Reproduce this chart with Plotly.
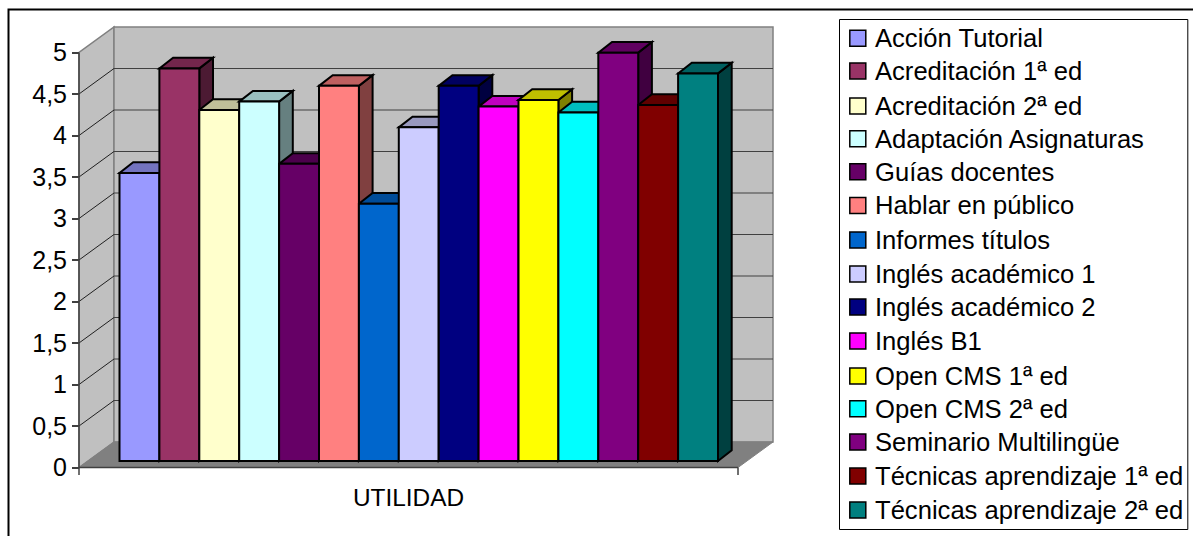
import plotly.graph_objects as go

CATEGORY = ["UTILIDAD"]
SERIES = ["Acción Tutorial", "Acreditación 1ª ed", "Acreditación 2ª ed", "Adaptación Asignaturas",
          "Guías docentes", "Hablar en público", "Informes títulos", "Inglés académico 1",
          "Inglés académico 2", "Inglés B1", "Open CMS 1ª ed", "Open CMS 2ª ed",
          "Seminario Multilingüe", "Técnicas aprendizaje 1ª ed", "Técnicas aprendizaje 2ª ed"]
VALUES = [3.47, 4.73, 4.23, 4.33, 3.58, 4.52, 3.10, 4.02, 4.52, 4.27, 4.35, 4.20, 4.92, 4.29, 4.67]
COLORS = ["#9999FF", "#993366", "#FFFFCC", "#CCFFFF", "#660066", "#FF8080", "#0066CC", "#CCCCFF",
          "#000080", "#FF00FF", "#FFFF00", "#00FFFF", "#800080", "#800000", "#008080"]
Y_TICKS = [0, 0.5, 1, 1.5, 2, 2.5, 3, 3.5, 4, 4.5, 5]
Y_LABELS = ["0", "0,5", "1", "1,5", "2", "2,5", "3", "3,5", "4", "4,5", "5"]

W, H = 1193, 536
X0_PX, Y0_PX = 79.0, 467.5      # front-left floor corner
X_UNIT, Y_UNIT = 39.9, 83.0     # pixels per bar / per value unit
WALL_DX, WALL_DY = 35 / X_UNIT, 25.5 / Y_UNIT
BAR_DX, BAR_DY = 13.7 / X_UNIT, 10.7 / Y_UNIT
BAR_X0, BAR_BASE = 40.5 / X_UNIT, 6.5 / Y_UNIT
X_END = 659 / X_UNIT
Y_TOP = 5
LEGEND_ROWS_PX = [38.3, 71, 106, 138.7, 171.7, 205.5, 240, 274, 307, 341, 376, 408.7, 442, 476, 510]


def shade(color, k):
    r, g, b = (int(color[i:i + 2], 16) for i in (1, 3, 5))
    return f"rgb({round(r * k)},{round(g * k)},{round(b * k)})"


def poly(points, fill, line_color, width=2):
    d = "M" + " L".join(f"{x:.4f},{y:.4f}" for x, y in points) + " Z"
    return dict(type="path", path=d, xref="x", yref="y", layer="below", fillcolor=fill,
                line=dict(color=line_color, width=width))


def seg(x1, y1, x2, y2, color, width=1.0, layer="below"):
    return dict(type="line", x0=x1, y0=y1, x1=x2, y1=y2, xref="x", yref="y", layer=layer,
                line=dict(color=color, width=width))


shapes = [
    # outer frame and legend frame
    dict(type="rect", xref="paper", yref="paper", x0=8.5 / W, x1=1.01, y0=-0.02, y1=1 - 9.5 / H,
         line=dict(color="black", width=2), fillcolor="white", layer="below"),
    dict(type="rect", xref="paper", yref="paper", x0=839.5 / W, x1=1187.8 / W, y0=1 - 529.5 / H, y1=1 - 19.5 / H,
         line=dict(color="black", width=1), fillcolor="white", layer="below"),
    # left wall, back wall, floor
    poly([(0, 0), (WALL_DX, WALL_DY), (WALL_DX, WALL_DY + Y_TOP), (0, Y_TOP)], "#C0C0C0", "#808080", 1.5),
    poly([(WALL_DX, WALL_DY), (X_END + WALL_DX, WALL_DY), (X_END + WALL_DX, WALL_DY + Y_TOP), (WALL_DX, WALL_DY + Y_TOP)],
         "#C0C0C0", "#808080", 1.5),
    poly([(0, 0), (X_END, 0), (X_END + WALL_DX, WALL_DY), (WALL_DX, WALL_DY)], "#808080", "#808080", 1),
]
for t in Y_TICKS[1:-1]:
    shapes.append(seg(0, t, WALL_DX, t + WALL_DY, "#202020", 1))
    shapes.append(seg(WALL_DX, t + WALL_DY, X_END + WALL_DX, t + WALL_DY, "#404040", 1))

for i, (v, c) in enumerate(zip(VALUES, COLORS)):
    xr = BAR_X0 + i + 1
    xl = xr - 1
    top = BAR_BASE + v
    shapes.append(poly([(xr, BAR_BASE), (xr, top), (xr + BAR_DX, top + BAR_DY), (xr + BAR_DX, BAR_BASE + BAR_DY)],
                       shade(c, 0.5), "black"))
    shapes.append(poly([(xl, top), (xr, top), (xr + BAR_DX, top + BAR_DY), (xl + BAR_DX, top + BAR_DY)],
                       shade(c, 0.75), "black"))

# axis lines and category-axis end ticks
shapes += [
    seg(0, 0, 0, Y_TOP, "#404040", 1.5, "above"),
    seg(0, 0, X_END, 0, "#404040", 1.5, "above"),
    seg(0, 0, 0, -7.5 / Y_UNIT, "#404040", 1.5, "above"),
    seg(X_END, 0, X_END, -7.5 / Y_UNIT, "#404040", 1.5, "above"),
]

# legend: swatches and labels, one row per series
annotations = []
for name, c, yc in zip(SERIES, COLORS, LEGEND_ROWS_PX):
    shapes.append(dict(type="rect", xref="paper", yref="paper", x0=849.8 / W, x1=865.8 / W,
                       y0=1 - (yc + 8) / H, y1=1 - (yc - 8) / H, fillcolor=c, layer="above",
                       line=dict(color="black", width=1.5)))
    annotations.append(dict(xref="paper", yref="paper", x=875 / W, y=1 - yc / H, xanchor="left", yanchor="middle",
                            text=name, showarrow=False, xshift=-1, font=dict(size=25.6), borderpad=0))

fig = go.Figure()
for i, (name, v, c) in enumerate(zip(SERIES, VALUES, COLORS)):
    fig.add_trace(go.Bar(x=[BAR_X0 + i + 0.5], y=[v], base=BAR_BASE, width=1, name=name,
                         marker=dict(color=c, line=dict(color="black", width=2)),
                         showlegend=False, hovertemplate=name + ": %{y}<extra></extra>"))

font = dict(family="Liberation Sans, Arial, sans-serif", color="black", size=25)
fig.update_layout(
    width=W, height=H, autosize=False, margin=dict(l=0, r=0, t=0, b=0),
    paper_bgcolor="white", plot_bgcolor="rgba(0,0,0,0)", font=font, separators=",.",
    barmode="overlay", shapes=shapes, annotations=annotations, showlegend=False,
    xaxis=dict(domain=[0, 1], range=[-X0_PX / X_UNIT, (W - X0_PX) / X_UNIT], anchor="free",
               position=(H - Y0_PX) / H, showgrid=False, zeroline=False, showline=False,
               tickvals=[X_END / 2], ticktext=CATEGORY, ticks="outside", ticklen=8,
               tickcolor="rgba(0,0,0,0)", tickfont=dict(size=24.4)),
    yaxis=dict(domain=[0, 1], range=[(Y0_PX - H) / Y_UNIT, Y0_PX / Y_UNIT], anchor="free",
               position=X0_PX / W, showgrid=False, zeroline=False, showline=False,
               tickvals=Y_TICKS, ticktext=Y_LABELS, ticks="outside", ticklen=7, tickwidth=1.5,
               tickcolor="#404040", tickfont=dict(size=25)),
)

fig.write_html("out.html", config=dict(displayModeBar=False),
               post_script="document.body.style.margin='0';")
